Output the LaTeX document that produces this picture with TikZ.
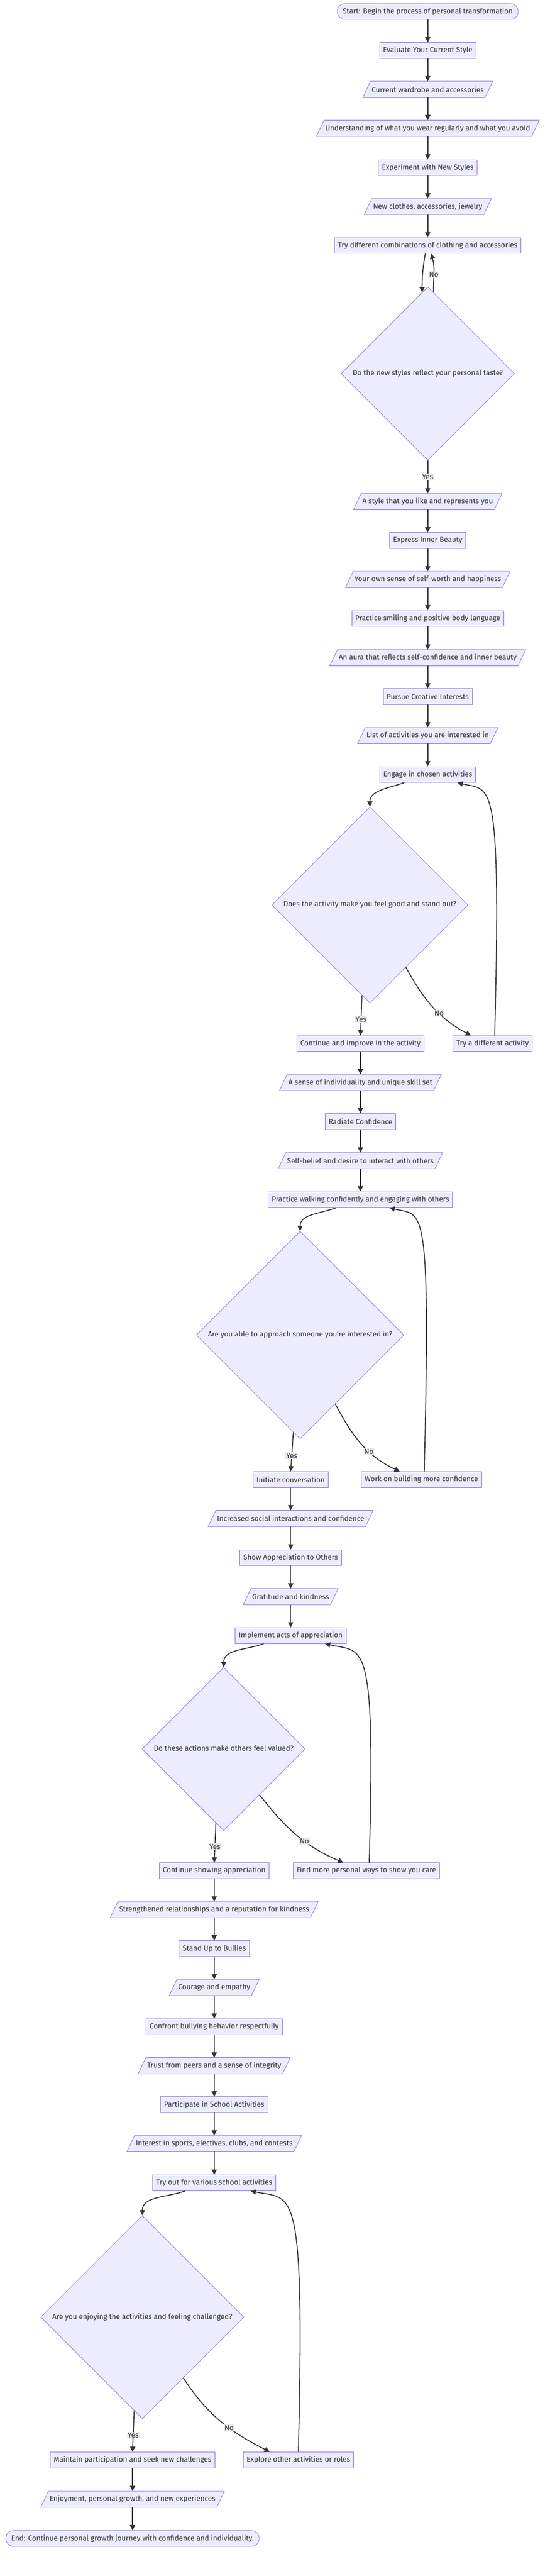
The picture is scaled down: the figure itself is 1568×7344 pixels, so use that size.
\documentclass[tikz,border=0pt]{standalone}
\usepackage{fontspec}
\setsansfont{Fira Sans}
\usetikzlibrary{shapes.geometric, arrows.meta, calc, backgrounds}

\begin{document}
\begin{tikzpicture}[x=0.5pt, y=-0.5pt,
    font=\sffamily\fontsize{10.4pt}{12pt}\selectfont,
    >={Triangle[length=7.5pt, width=7.5pt]},
    box/.style={draw=nodeline, fill=nodefill, line width=0.65pt, text=textcol,
      minimum height=22.5pt, inner ysep=0pt},
    proc/.style={box, rectangle, inner xsep=5pt},
    term/.style={box, rectangle, rounded corners=11pt, inner xsep=7.75pt},
    io/.style={box, rectangle, draw=none, fill=none, inner xsep=7pt},
    ioshape/.style={draw=nodeline, fill=nodefill, line width=0.65pt},
    dec/.style={box, diamond, aspect=1, inner sep=5.75pt, minimum height=0pt,
      text height=7.5pt, text depth=2.5pt},
    flow/.style={->, draw=linecol, line width=1.3pt},
    lbl/.style={fill=lblfill, text=textcol, inner sep=1pt}]

      % Colors: mermaid default theme
      \definecolor{nodefill}{RGB}{236,236,255}
      \definecolor{nodeline}{RGB}{147,112,219}
      \definecolor{linecol}{RGB}{51,51,51}
      \definecolor{textcol}{RGB}{51,51,51}
      \definecolor{lblfill}{RGB}{232,232,232}

      % page frame, in pixels of the reference
      \path[use as bounding box] (0,0) rectangle (1568,7344);

      % --- Style ---
      \node[term] (start) at (1220,33) {Start: Begin the process of personal transformation};
      \node[proc] (evaluate) at (1220,144) {Evaluate Your Current Style};
      \node[io] (wardrobe) at (1220,255) {Current wardrobe and accessories};
      \node[io] (understand) at (1220,366) {Understanding of what you wear regularly and what you avoid};
      \node[proc] (experiment) at (1220,478) {Experiment with New Styles};
      \node[io] (newclothes) at (1220,589) {New clothes, accessories, jewelry};
      \node[proc] (trycombo) at (1220,700) {Try different combinations of clothing and accessories};
      \node[dec] (taste) at (1220,1065) {Do the new styles reflect your personal taste?};
      \node[io] (ownstyle) at (1220,1430) {A style that you like and represents you};

      % --- Inner beauty ---
      \node[proc] (express) at (1220,1541) {Express Inner Beauty};
      \node[io] (selfworth) at (1220,1652) {Your own sense of self-worth and happiness};
      \node[proc] (smiling) at (1220,1763) {Practice smiling and positive body language};
      \node[io] (aura) at (1220,1875) {An aura that reflects self-confidence and inner beauty};

      % --- Creative interests ---
      \node[proc] (pursue) at (1220,1986) {Pursue Creative Interests};
      \node[io] (actlist) at (1220,2097) {List of activities you are interested in};
      \node[proc] (engage) at (1220,2208) {Engage in chosen activities};
      \node[dec] (standout) at (1055,2580) {Does the activity make you feel good and stand out?};
      \node[proc] (improve) at (1028,2975) {Continue and improve in the activity};
      \node[proc] (tryother) at (1405,2975) {Try a different activity};
      \node[io] (unique) at (1028,3086) {A sense of individuality and unique skill set};

      % --- Confidence ---
      \node[proc] (radiate) at (1028,3197) {Radiate Confidence};
      \node[io] (selfbelief) at (1028,3309) {Self-belief and desire to interact with others};
      \node[proc] (walking) at (1028,3420) {Practice walking confidently and engaging with others};
      \node[dec] (approach) at (856,3806) {Are you able to approach someone you're interested in?};
      \node[proc] (initiate) at (829,4218) {Initiate conversation};
      \node[proc] (buildconf) at (1202,4218) {Work on building more confidence};
      \node[io] (social) at (829,4329) {Increased social interactions and confidence};

      % --- Appreciation ---
      \node[proc] (showapp) at (829,4441) {Show Appreciation to Others};
      \node[io] (gratitude) at (829,4552) {Gratitude and kindness};
      \node[proc] (acts) at (829,4663) {Implement acts of appreciation};
      \node[dec] (valued) at (638,4986) {Do these actions make others feel valued?};
      \node[proc] (keepshow) at (611,5333) {Continue showing appreciation};
      \node[proc] (findways) at (1045,5333) {Find more personal ways to show you care};
      \node[io] (relations) at (611,5444) {Strengthened relationships and a reputation for kindness};

      % --- Bullies ---
      \node[proc] (standup) at (611,5555) {Stand Up to Bullies};
      \node[io] (courage) at (611,5666) {Courage and empathy};
      \node[proc] (confront) at (611,5778) {Confront bullying behavior respectfully};
      \node[io] (trust) at (611,5889) {Trust from peers and a sense of integrity};

      % --- School activities ---
      \node[proc] (school) at (611,6000) {Participate in School Activities};
      \node[io] (interest) at (611,6111) {Interest in sports, electives, clubs, and contests};
      \node[proc] (tryout) at (611,6223) {Try out for various school activities};
      \node[dec] (enjoying) at (406,6606) {Are you enjoying the activities and feeling challenged?};
      \node[proc] (maintain) at (378,7013) {Maintain participation and seek new challenges};
      \node[proc] (explore) at (851,7013) {Explore other activities or roles};
      \node[io] (growth) at (378,7125) {Enjoyment, personal growth, and new experiences};
      \node[term] (finish) at (378,7237) {End: Continue personal growth journey with confidence and individuality.};

      % white page and the slanted data boxes behind the texts
      \begin{scope}[on background layer]
        \fill[white] (0,0) rectangle (1568,7344);
        \foreach \n in {wardrobe, understand, newclothes, ownstyle, selfworth, aura,
            actlist, unique, selfbelief, social, gratitude, relations, courage,
            trust, interest, growth}
          \draw[ioshape] ($(\n.south west)+(-11,0)$) -- ($(\n.north west)+(11,0)$)
            -- ($(\n.north east)+(11,0)$) -- ($(\n.south east)+(-11,0)$) -- cycle;
      \end{scope}

      % straight steps
      \foreach \a/\b in {start/evaluate, evaluate/wardrobe, wardrobe/understand,
          understand/experiment, experiment/newclothes, newclothes/trycombo,
          ownstyle/express, express/selfworth, selfworth/smiling, smiling/aura,
          aura/pursue, pursue/actlist, actlist/engage,
          improve/unique, unique/radiate, radiate/selfbelief, selfbelief/walking,
          initiate/social, social/showapp, showapp/gratitude, gratitude/acts,
          keepshow/relations, relations/standup, standup/courage, courage/confront,
          confront/trust, trust/school, school/interest, interest/tryout,
          maintain/growth, growth/finish}
        \draw[flow] (\a) -- (\b);

      % taste decision
      \draw[flow] ($(trycombo.south)+(-7,0)$) to[out=-100, in=90] (taste.94);
      \draw[flow] (taste.86) to[out=90, in=-75] node[lbl, pos=0.45] {No} ($(trycombo.south)+(10,0)$);
      \draw[flow] (taste) -- node[lbl] {Yes} (ownstyle);

      % stand out decision
      \draw[flow] ($(engage.south)+(-67,0)$) to[out=-160, in=90] (standout.north);
      \draw[flow] (standout.265) -- node[lbl, pos=0.6] {Yes} (improve.north);
      \draw[flow] (standout.-60) to[out=-61, in=152] node[lbl, pos=0.6] {No} ($(tryother.north)+(-62,0)$);
      \draw[flow] ($(tryother.north)+(6,0)$) .. controls +(19,-753) and +(95,24) .. ($(engage.south)+(85,0)$);

      % approach decision
      \draw[flow] ($(walking.south)+(-69,0)$) to[out=-160, in=90] (approach.north);
      \draw[flow] (approach.266) -- node[lbl, pos=0.6] {Yes} (initiate.north);
      \draw[flow] (approach.-63) to[out=-62, in=155] node[lbl, pos=0.62] {No} ($(buildconf.north)+(-62,0)$);
      \draw[flow] ($(buildconf.north)+(8,0)$) .. controls +(19,-786) and +(95,24) .. ($(walking.south)+(83,0)$);

      % valued decision
      \draw[flow] ($(acts.south)+(-77,0)$) to[out=-160, in=90] (valued.north);
      \draw[flow] (valued.264) -- node[lbl, pos=0.6] {Yes} (keepshow.north);
      \draw[flow] (valued.-52) to[out=-52, in=157] node[lbl, pos=0.6] {No} ($(findways.north)+(-66,0)$);
      \draw[flow] ($(findways.north)+(8,0)$) .. controls +(19,-652) and +(110,25) .. ($(acts.south)+(98,0)$);

      % enjoying decision
      \draw[flow] ($(tryout.south)+(-83,0)$) to[out=-160, in=90] (enjoying.north);
      \draw[flow] (enjoying.265) -- node[lbl, pos=0.6] {Yes} (maintain.north);
      \draw[flow] (enjoying.-56) to[out=-57, in=153] node[lbl, pos=0.6] {No} ($(explore.north)+(-82,0)$);
      \draw[flow] (explore.north) .. controls +(19,-778) and +(120,25) .. ($(tryout.south)+(104,0)$);

    \end{tikzpicture}
\end{document}
